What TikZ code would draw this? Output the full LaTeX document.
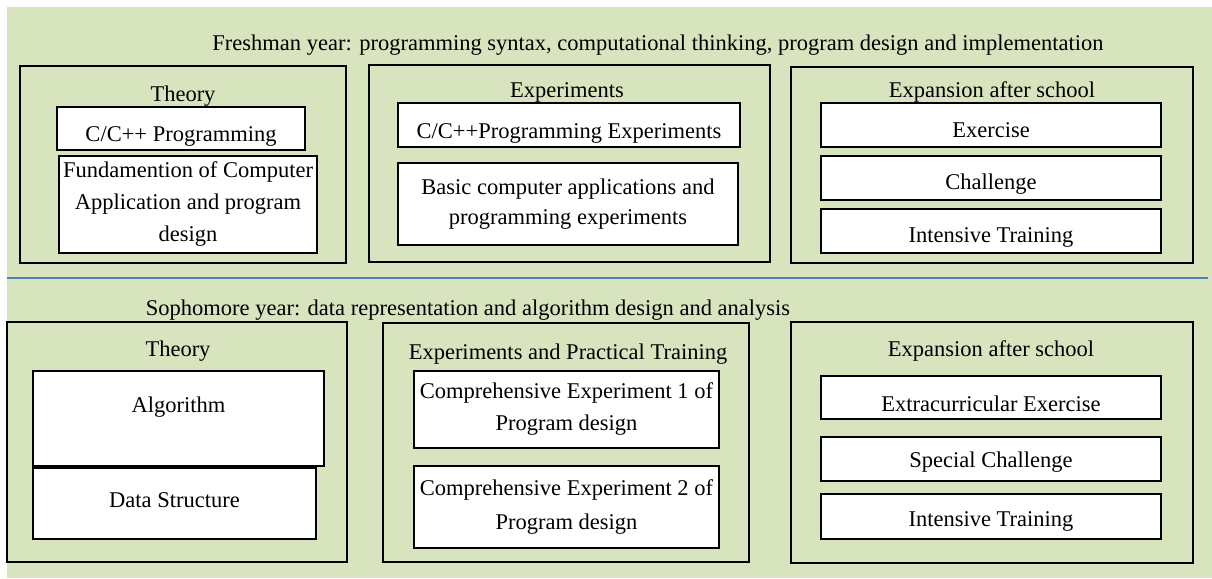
\documentclass[tikz,border=0pt]{standalone}
\usepackage{fontspec}
\setmainfont{Liberation Serif}
\definecolor{bggreen}{HTML}{D7E4BD}
\definecolor{divblue}{HTML}{4F81BD}
\begin{document}
\begin{tikzpicture}[x=1pt,y=-1pt,
  font=\fontsize{22.5}{32}\selectfont,
  outer/.style={draw=black, line width=1.4pt, rectangle, inner sep=0pt},
  inbox/.style={draw=black, fill=white, line width=1.2pt, rectangle, inner sep=0pt, align=center},
  lbl/.style={inner sep=0pt, align=center},
  th/.style={text height=#1, text depth=0pt}]
\useasboundingbox (0,0) rectangle (1212,578);
\fill[bggreen] (7,7) rectangle (1212,578);
% divider
\coordinate (dl) at (7,278);
\coordinate (dr) at (1208,278);
\draw[divblue, line width=2pt] (dl) -- (dr);
% titles
\node[lbl] (fresh) at (658,45) {Freshman year: programming syntax, computational thinking, program design and implementation};
\node[lbl] (soph) at (468,310) {Sophomore year: data representation and algorithm design and analysis};
% ---------- top row
\node[outer, minimum width=326pt, minimum height=197pt] (tTheory) at (183,164.5) {};
\node[lbl] (tTheoryL) at (183,96) {Theory};
\node[inbox, th=25.8pt, minimum width=248pt, minimum height=43pt] (tCpp) at (181,128.5) {C/C++ Programming};
\node[inbox, minimum width=258pt, minimum height=97pt] (tFund) at (188,204.5) {Fundamention of Computer\\Application and program\\design};
\node[outer, minimum width=401pt, minimum height=197pt] (tExp) at (569.5,163.5) {};
\node[lbl] (tExpL) at (567,92) {Experiments};
\node[inbox, th=26.8pt, minimum width=342pt, minimum height=44pt] (tCppExp) at (569,125) {C/C++Programming Experiments};
\node[inbox, minimum width=340pt, minimum height=82pt] (tBasic) at (568,204) {Basic computer applications and\\[-2pt]programming experiments};
\node[outer, minimum width=402pt, minimum height=196pt] (tExpan) at (992,165) {};
\node[lbl] (tExpanL) at (992,92) {Expansion after school};
\node[inbox, th=24.8pt, minimum width=340pt, minimum height=44pt] (tEx) at (991,125) {Exercise};
\node[inbox, th=23.8pt, minimum width=340pt, minimum height=44pt] (tCh) at (991,178) {Challenge};
\node[inbox, th=22.2pt, minimum width=340pt, minimum height=44pt] (tIT) at (991,231) {Intensive Training};
% ---------- bottom row
\node[outer, minimum width=340pt, minimum height=240pt] (bTheory) at (177,442) {};
\node[lbl] (bTheoryL) at (178,351) {Theory};
\node[inbox, minimum width=291pt, minimum height=95pt] (bAlg) at (178.5,418.5) {};
\node[lbl] (bAlgT) at (178.5,407) {Algorithm};
\node[inbox, th=8.8pt, minimum width=283pt, minimum height=71pt] (bDS) at (174.5,503.5) {Data Structure};
\node[outer, minimum width=366pt, minimum height=239pt] (bExp) at (566,442.5) {};
\node[lbl] (bExpL) at (568,354) {Experiments and Practical Training};
\node[inbox, minimum width=305pt, minimum height=77pt] (bC1) at (566.5,409.5) {Comprehensive Experiment 1 of\\Program design};
\node[inbox, minimum width=305pt, minimum height=82pt] (bC2) at (566.5,507) {Comprehensive Experiment 2 of\\[1pt]Program design};
\node[outer, minimum width=402pt, minimum height=241pt] (bExpan) at (992,442.5) {};
\node[lbl] (bExpanL) at (991,351) {Expansion after school};
\node[inbox, th=27.8pt, minimum width=340pt, minimum height=43pt] (bEx) at (991,397.5) {Extracurricular Exercise};
\node[inbox, th=17.8pt, minimum width=340pt, minimum height=44pt] (bSC) at (991,459) {Special Challenge};
\node[inbox, th=20.8pt, minimum width=340pt, minimum height=45pt] (bIT) at (991,516.5) {Intensive Training};
\end{tikzpicture}
\end{document}
